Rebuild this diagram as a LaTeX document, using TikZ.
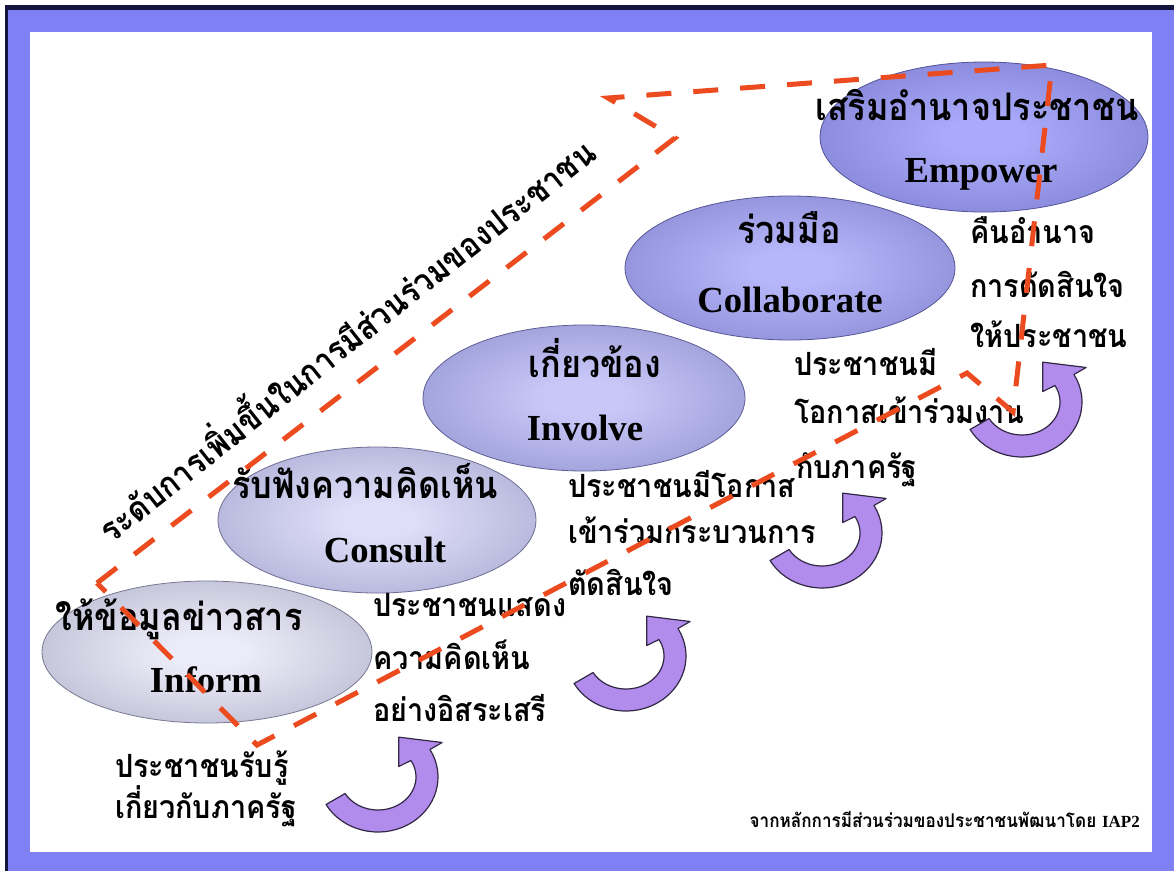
\documentclass[tikz,border=0pt]{standalone}
\usepackage{fontspec}
\setmainfont{Liberation Serif}
\newfontfamily\thaifont[Script=Thai, FakeStretch=0.9]{Loma}
\usetikzlibrary{shapes.geometric,calc}

\definecolor{framefill}{RGB}{128,128,245}
\definecolor{frameedge}{RGB}{20,20,60}
\definecolor{stairred}{RGB}{235,75,30}
\definecolor{turnfill}{RGB}{178,140,236}
\definecolor{turnedge}{RGB}{50,40,70}
\definecolor{informin}{RGB}{236,236,248}
\definecolor{informout}{RGB}{150,150,182}
\definecolor{consultin}{RGB}{222,222,248}
\definecolor{consultout}{RGB}{138,138,188}
\definecolor{involvein}{RGB}{200,200,248}
\definecolor{involveout}{RGB}{118,118,188}
\definecolor{collabin}{RGB}{182,182,250}
\definecolor{collabout}{RGB}{108,108,188}
\definecolor{empowerin}{RGB}{170,170,250}
\definecolor{empowerout}{RGB}{102,102,188}
\colorlet{ellin}{white}
\colorlet{ellout}{gray}
\pgfdeclareradialshading[ellin,ellout]{ellglow}{\pgfpoint{0bp}{0bp}}{color(0bp)=(ellin); color(6bp)=(ellin); color(50bp)=(ellout)}

\newcommand{\turnarrow}{%
  \draw[turn] (150:60 and 55) arc[start angle=150, end angle=-30, x radius=60, y radius=55]
    -- (-30:74 and 69) -- (-65:49 and 44) -- (-30:24 and 21) -- (-30:38 and 33)
    arc[start angle=-30, end angle=150, x radius=38, y radius=33] -- cycle;}

\tikzset{
  level/.style 2 args={ellipse, inner sep=0pt, draw=#2!80!black, line width=0.8pt,
    shade, shading=ellglow, /utils/exec={\colorlet{ellin}{#1}\colorlet{ellout}{#2}}},
  thaitext/.style={font=\thaifont\bfseries\fontsize{38}{44}\selectfont, inner sep=0pt, anchor=base},
  engtext/.style={font=\bfseries\fontsize{36.7}{44}\selectfont, inner sep=0pt, anchor=base},
  note/.style={font=\thaifont\bfseries\fontsize{32}{38}\selectfont, inner sep=0pt, anchor=base west},
  stair/.style={draw=stairred, line width=5pt, dash pattern=on 25pt off 22pt},
  turn/.style={fill=turnfill, draw=turnedge, line width=1.2pt, line join=round}
}

\begin{document}
\begin{tikzpicture}[x=1pt,y=-1pt]
    \useasboundingbox (0,0) rectangle (1174,871);
    \fill[frameedge] (5,5) rectangle (1174,871);
    \fill[framefill] (8,10) rectangle (1174,871);
    \fill[white] (30,32) rectangle (1152,852);

    \node[level={informin}{informout}, minimum width=330pt, minimum height=142pt] (inform) at (207,652) {};
    \node[level={consultin}{consultout}, minimum width=318pt, minimum height=146pt] (consult) at (377,520) {};
    \node[level={involvein}{involveout}, minimum width=322pt, minimum height=146pt] (involve) at (584,398) {};
    \node[level={collabin}{collabout}, minimum width=330pt, minimum height=144pt] (collab) at (790,268) {};
    \node[level={empowerin}{empowerout}, minimum width=328pt, minimum height=150pt] (empower) at (984,137) {};

    \node[thaitext] (inform-th) at ($(inform)+(-28,-22)$) {ให้ข้อมูลข่าวสาร};
    \node[engtext] (inform-en) at ($(inform)+(-1,40)$) {Inform};
    \node[thaitext] (consult-th) at ($(consult)+(-12,-22)$) {รับฟังความคิดเห็น};
    \node[engtext] (consult-en) at ($(consult)+(8,42)$) {Consult};
    \node[thaitext] (involve-th) at ($(involve)+(11,-21)$) {เกี่ยวข้อง};
    \node[engtext] (involve-en) at ($(involve)+(1,42)$) {Involve};
    \node[thaitext] (collab-th) at ($(collab)+(-1,-25)$) {ร่วมมือ};
    \node[engtext] (collab-en) at ($(collab)+(0,44)$) {Collaborate};
    \node[thaitext] (empower-th) at ($(empower)+(-7,-17)$) {เสริมอำนาจประชาชน};
    \node[engtext] (empower-en) at ($(empower)+(-3,45)$) {Empower};

    \node[note] (inform-n1) at (115,777) {ประชาชนรับรู้};
    \node[note] (inform-n2) at (115,818) {เกี่ยวกับภาครัฐ};
    \node[note] (consult-n1) at (373,616) {ประชาชนแสดง};
    \node[note] (consult-n2) at (373,669) {ความคิดเห็น};
    \node[note] (consult-n3) at (373,721) {อย่างอิสระเสรี};
    \node[note] (involve-n1) at (568,497) {ประชาชนมีโอกาส};
    \node[note] (involve-n2) at (568,543) {เข้าร่วมกระบวนการ};
    \node[note] (involve-n3) at (568,595) {ตัดสินใจ};
    \node[note] (collab-n1) at (794,375) {ประชาชนมี};
    \node[note] (collab-n2) at (794,423) {โอกาสเข้าร่วมงาน};
    \node[note] (collab-n3) at (796,478) {กับภาครัฐ};
    \node[note] (empower-n1) at (970,243) {คืนอำนาจ};
    \node[note] (empower-n2) at (970,297) {การตัดสินใจ};
    \node[note] (empower-n3) at (970,347) {ให้ประชาชน};

    \node[note, font=\thaifont\bfseries\fontsize{34}{40}\selectfont, anchor=center, rotate=38.5] (rise) at (344,337)
      {ระดับการเพิ่มขึ้นในการมีส่วนร่วมของประชาชน};
    \node[note, font=\thaifont\bfseries\fontsize{19}{24}\selectfont, anchor=base east] (source) at (1140,827)
      {จากหลักการมีส่วนร่วมของประชาชนพัฒนาโดย {\rmfamily\bfseries\fontsize{17}{22}\selectfont IAP2}};

    \coordinate (A) at (97,583);
    \coordinate (B) at (675,138);
    \coordinate (C) at (608,98);
    \coordinate (D) at (1052,65);
    \coordinate (E) at (1013,412);
    \coordinate (F) at (967,373);
    \coordinate (G) at (257,745);
    \draw[stair] (A)--(B)--(C)--(D)--(E)--(F)--(G)--cycle;

    \begin{scope}[shift={(378,777)}]
      \turnarrow
    \end{scope}
    \begin{scope}[shift={(626,656)}]
      \turnarrow
    \end{scope}
    \begin{scope}[shift={(822,533)}]
      \turnarrow
    \end{scope}
    \begin{scope}[shift={(1022,402)}]
      \turnarrow
    \end{scope}

  \end{tikzpicture}
\end{document}
